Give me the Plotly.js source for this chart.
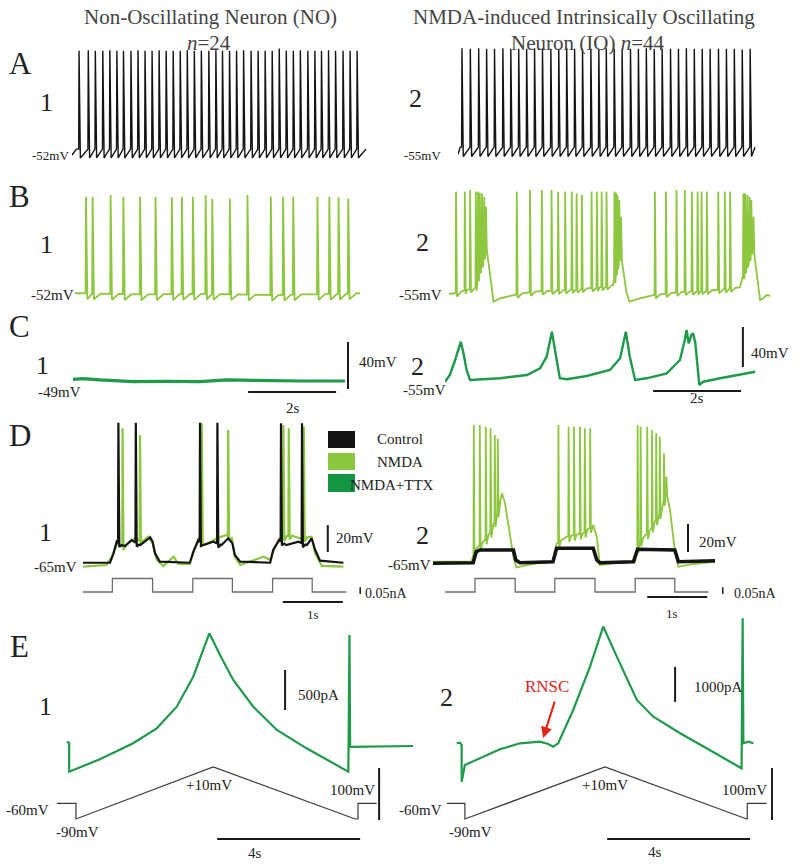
<!DOCTYPE html>
<html>
<head>
<meta charset="utf-8">
<script src="https://cdn.plot.ly/plotly-3.0.1.min.js"></script>
<style>html,body{margin:0;padding:0;background:#fff;}#chart{width:800px;height:867px;}</style>
</head>
<body>
<div id="chart"></div>
<script>
// ---------------- DATA (time in s, voltage in mV, current in nA / pA) ----------------
// A1: Non-oscillating neuron, control
const a1SpikeT = [0.16,0.37,0.53,0.70,0.86,1.02,1.17,1.34,1.50,1.66,1.82,1.98,2.14,2.30,2.46,2.62,2.78,2.94,3.11,3.27,3.42,3.58,3.74,3.90,4.07,4.23,4.39,4.55,4.71,4.87,5.03,5.19,5.36,5.52,5.67,5.83,5.99,6.16,6.32,6.48];
const a1SpikeV = [37,37.5,37,37,37.5,37,37,37,37.5,37,37,37.5,37,37,37,37.5,37,37,37,37.5,37,37,37,37.5,37,37,37,37,39,37,37,37.5,37,37,37,37.5,37,37,37,37];
const a1BaseT = [0,0.10,6.68];
const a1BaseV = [-52,-47,-47];
// A2: Intrinsically oscillating neuron, control
const a2SpikeT = [0.09,0.28,0.47,0.65,0.83,1.02,1.20,1.38,1.56,1.74,1.92,2.11,2.29,2.47,2.65,2.83,3.02,3.20,3.37,3.55,3.73,3.92,4.10,4.28,4.46,4.64,4.83,5.01,5.19,5.37,5.55,5.73,5.92,6.10,6.28,6.46,6.64];
const a2SpikeV = [34.5,34,34.5,34,34,34.5,34,34,34,34.5,34,34,34,34.5,34,34,34,34,34.5,34,34,34,34,34.5,34,34,34,34,34.5,34,34,34,34,34,34,33.5,34];
const a2BaseT = [0,0.05,6.75];
const a2BaseV = [-56,-50,-50];
// B1: NO neuron in NMDA
const b1SpikeT = [0.25,0.40,0.81,1.10,1.48,1.83,2.20,2.43,2.68,2.97,3.12,3.52,3.92,4.45,4.73,4.96,5.51,5.78,5.99,6.21];
const b1SpikeV = [32,32,33.5,32,32,32,31.5,32,32,33.5,30,30.5,33.5,32,32,32,32,32,31.5,30.5];
const b1BaseT = [0,1.5,3.0,4.5,6.48];
const b1BaseV = [-50.5,-51.5,-51,-52,-50.5];
// B2: IO neuron in NMDA (bursting)
const b2BaseT = [0,0.14,0.40,0.61,0.70,0.78,0.84,0.89,0.95,1.01,1.16,1.46,1.92,2.67,3.43,3.73,3.81,3.89,3.95,4.02,4.10,4.34,4.64,5.33,6.08,6.61,6.73,6.84,6.90,6.95,7.01,7.07,7.14,7.22,7.30];
const b2BaseV = [-55,-54.4,-51.6,-49.3,-34.5,-26,-14.6,-17.4,-43,-61.6,-58.7,-55.9,-53,-51.6,-49.3,-47.3,-34.5,-20.2,-31.6,-51.6,-61.6,-58.7,-55.9,-53,-51.6,-49.3,-34.5,-23.1,-13.1,-26,-43,-60.1,-58.7,-55.9,-56.7];
const b2SpikeT = [0.16,0.36,0.48,0.61,0.66,0.70,0.75,0.80,0.84,
  1.54,1.84,2.11,2.33,2.48,2.64,2.79,2.90,3.02,3.24,3.36,3.47,3.58,3.76,3.80,3.83,3.87,3.91,
  4.68,4.93,5.17,5.36,5.52,5.65,5.74,5.86,6.12,6.27,6.39,6.69,6.73,6.78,6.83,6.87,6.92];
const b2SpikeV = [32.5,32.5,33.9,32.5,32.5,31.6,31,28.2,19.6,
  32.5,33.9,33.9,33.9,32.5,32.5,32.5,31,29.6,32.5,32.5,32.5,32.5,32.5,31.6,29.6,25.3,11.1,
  32.5,32.5,33.9,33.9,32.5,32.5,32.5,32.5,32.5,32.5,32.5,31,31,29.6,28.2,25.3,11.1];
// C: NMDA + TTX
const c1T = [0,0.23,0.61,1.37,2.13,2.89,3.49,4.40,5.16,6.18];
const c1V = [-47.6,-47.0,-48.1,-49.6,-49.3,-49.6,-48.1,-48.7,-49,-49];
const c2T = [0,0.11,0.23,0.30,0.36,0.42,0.49,0.57,0.80,1.25,1.86,2.16,2.31,2.43,2.50,2.61,2.77,3.22,3.75,3.98,4.11,4.20,4.32,4.58,5.04,5.34,5.45,5.49,5.54,5.60,5.64,5.69,5.78,5.87,6.25,6.70,7.05];
const c2V = [-54.7,-48,-33,-23,-14.7,-26.3,-43,-53,-52.3,-51.3,-48,-41.3,-29.7,-4.7,-23,-51.3,-52.3,-49,-43,-31.3,-4.7,-29.7,-53,-51.3,-46.3,-33,-13,-3,-16.3,-8,-6.3,-16.3,-58,-54.7,-51.3,-48,-44.7];
// D1: NO neuron, depolarizing current steps
const d1CtrlBaseT = [0,0.45,0.51,0.56,0.64,0.70,0.81,0.95,1.03,1.12,1.16,1.20,1.28,1.78,1.84,1.92,2.00,2.17,2.31,2.42,2.49,2.53,2.62,3.12,3.17,3.27,3.39,3.59,3.73,3.81,3.87,3.95,4.34];
const d1CtrlBaseV = [-64.8,-64.8,-57.8,-49.2,-51.7,-52.4,-48,-51.7,-49.2,-46,-49.2,-57.8,-64,-64.8,-56.6,-48,-51.7,-49.2,-51.7,-46.7,-50.4,-59,-64,-64.8,-55.4,-48,-51.7,-49.2,-51.7,-46.7,-55.4,-63.3,-64.8];
const d1CtrlSpikeT = [0.59,0.88,1.95,2.24,3.30,3.65];
const d1CtrlSpikeV = [38.9,38.9,38.9,38.9,38.5,38.5];
const d1NmdaBaseT = [0,0.39,0.48,0.57,0.68,0.87,0.98,1.09,1.16,1.23,1.34,1.51,1.59,1.78,1.85,1.95,2.03,2.23,2.39,2.48,2.53,2.62,3.01,3.12,3.20,3.28,3.45,3.62,3.81,3.87,3.98,4.34];
const d1NmdaBaseV = [-67.7,-66.5,-60.3,-50.4,-52.9,-46.7,-49.2,-45.5,-50.4,-62.8,-67.2,-60.3,-65.7,-65.7,-55.4,-46.7,-51.7,-46.7,-44.3,-46.7,-60.3,-66.5,-60.3,-62.8,-52.9,-46.7,-44.3,-46.7,-45.5,-57.8,-67.2,-67.7];
const d1NmdaSpikeT = [0.66,0.95,1.98,2.42,3.34,3.43,3.68];
const d1NmdaSpikeV = [34.8,29.8,38.5,33.5,37.2,34.8,36];
const d1StepT = [0,0.49,1.16,1.83,2.49,3.16,3.82,4.39];
const d1StepI = [0,0.1,0,0.1,0,0.1,0,0];
// D2: IO neuron, depolarizing current steps
const d2CtrlT = [0,0.67,0.72,0.78,1.34,1.38,1.45,2.0,2.06,2.67,2.73,2.78,3.34,3.41,4.03,4.09,4.70];
const d2CtrlV = [-65.2,-64.8,-57,-55.7,-55.7,-62.9,-64.8,-64.1,-54.5,-54.5,-62.9,-64.8,-64.1,-55.2,-55.7,-64.1,-63.4];
const d2NmdaBaseT = [0,0.64,0.70,0.84,0.95,1.06,1.15,1.20,1.28,1.34,1.39,1.67,2.0,2.06,2.23,2.5,2.67,2.73,2.78,3.0,3.37,3.42,3.62,3.81,3.89,3.95,4.03,4.09,4.34,4.70];
const d2NmdaBaseV = [-64.1,-64.1,-55.7,-49.8,-43.8,-32,-15.2,-22.4,-46.2,-60.5,-68.1,-65.7,-64.1,-51,-46.2,-43.8,-37.9,-46.2,-66.4,-65.2,-64.1,-51,-41.5,-27.2,-12.9,-27.2,-55.7,-67.6,-65.7,-64.1];
const d2NmdaSpikeT = [0.68,0.78,0.88,0.96,1.03,1.08,2.09,2.26,2.35,2.45,2.53,2.62,3.41,3.46,3.57,3.65,3.72,3.78,3.85,3.89];
const d2NmdaSpikeV = [33.6,33.6,32.4,31.2,26.4,24,33.6,32.4,32.4,32.4,31.2,31.2,33.6,32.4,32.4,30,27.6,25.2,13.4,-3.4];
const d2StepT = [0.2,0.70,1.37,2.03,2.70,3.37,4.03,4.59];
const d2StepI = [0,0.1,0,0.1,0,0.1,0,0];
// E: voltage-clamp ramps (current in pA, command in mV)
const e1T = [0.27,0.34,0.34,1.20,2.13,2.79,3.35,3.81,4.26,4.56,4.93,5.49,6.15,6.98,8.15,8.18,8.20,9.96];
const e1I = [50,40,-321,-166,34,221,491,866,1409,1138,825,491,200,-29,-321,1388,-12,0];
const e1CmdT = [0,0.53,0.53,4.37,8.34,8.42,8.42,8.94];
const e1CmdV = [-60,-60,-90,10,-90,-90,-60,-60];
const e2T = [0.27,0.36,0.41,0.41,0.50,1.02,1.48,2.04,2.60,2.83,2.97,3.11,3.53,4.0,4.37,4.75,5.31,5.77,6.52,7.26,8.24,8.27,8.29,8.43,8.57];
const e2I = [106,123,57,-992,-515,-277,-66,106,152,86,9,106,1058,2297,3441,2583,1344,867,392,-37,-609,3681,106,152,106];
const e2CmdT = [0,0.50,0.50,4.42,8.38,8.40,8.40,8.94];
const e2CmdV = [-60,-60,-90,10,-90,-90,-60,-60];
const legendLabels = ['Control','NMDA','NMDA+TTX'];

// ---------------- STYLE ----------------
const W = 800, H = 867;
const FONT = '"Liberation Serif", "Times New Roman", Times, serif';
const BLACK = '#141414', LGREEN = '#8dc63f', DGREEN = '#1f9a4a', GRAY = '#6e6e6e';

function interp(T, V, t) {
  if (t <= T[0]) return V[0];
  for (let i = 1; i < T.length; i++) {
    if (t <= T[i]) { const f = (t - T[i-1]) / (T[i] - T[i-1]); return V[i-1] + f * (V[i] - V[i-1]); }
  }
  return V[V.length - 1];
}
// Builds a membrane trace from baseline vertices and spike peaks
function spikeTrain(T, V, ST, SV, o) {
  const x = [], y = [];
  let bi = 0;
  const push = (a, b) => { if (x.length && a <= x[x.length-1]) a = x[x.length-1] + 1e-4; x.push(a); y.push(b); };
  for (let k = 0; k < ST.length; k++) {
    const t = ST[k];
    while (bi < T.length && T[bi] < t - o.rise) { if (!x.length || T[bi] > x[x.length-1]) push(T[bi], V[bi]); bi++; }
    const foot = interp(T, V, t);
    push(t - o.rise, foot);
    push(t, SV[k]);
    push(t + o.fall, foot - o.ahp);
    if (o.rec) {
      const tn = k + 1 < ST.length ? ST[k+1] - o.rise : Infinity;
      const tr = t + o.fall + o.rec;
      if (tr < tn) push(tr, interp(T, V, tr));
    }
    while (bi < T.length && T[bi] <= x[x.length-1]) bi++;
  }
  while (bi < T.length) { push(T[bi], V[bi]); bi++; }
  return {x, y};
}

const layout = {
  width: W, height: H, margin: {l:0, r:0, t:0, b:0},
  paper_bgcolor: '#fff', plot_bgcolor: 'rgba(0,0,0,0)',
  showlegend: false, font: {family: FONT, color: '#222'},
  shapes: [], annotations: []
};
function ax(i) { return i === 1 ? '' : String(i); }
// panel i: pixel box and scales (px per unit)
function panel(i, px0, px1, t0px, xs, pyTop, pyBot, refV, refY, ys) {
  layout['xaxis' + ax(i)] = {domain: [px0 / W, px1 / W], range: [(px0 - t0px) / xs, (px1 - t0px) / xs],
    visible: false, fixedrange: true, anchor: 'y' + ax(i)};
  layout['yaxis' + ax(i)] = {domain: [1 - pyBot / H, 1 - pyTop / H], range: [refV - (pyBot - refY) / ys, refV + (refY - pyTop) / ys],
    visible: false, fixedrange: true, anchor: 'x' + ax(i)};
}
panel(1, 72, 370, 72, 44, 40, 168, -52, 155, 1.17);     // A1
panel(2, 458, 760, 458, 44, 40, 168, -55, 153, 1.17);   // A2
panel(3, 75, 365, 75, 44, 185, 308, -52, 295, 1.17);    // B1
panel(4, 449, 775, 449, 44, 185, 308, -55, 294, 1.17);  // B2
panel(5, 73, 355, 73, 44, 330, 398, -49, 381, 1.175);   // C1
panel(6, 445, 760, 445, 44, 320, 398, -55, 382, 1.0);   // C2
panel(7, 83, 365, 83, 60, 415, 578, -65, 563, 1.35);    // D1 V
panel(8, 83, 365, 83, 60, 570, 606, 0, 592, 135);       // D1 I
panel(9, 433, 730, 433, 60, 415, 578, -65, 563, 1.4);   // D2 V
panel(10, 433, 730, 433, 60, 570, 606, 0, 592, 135);    // D2 I
panel(11, 57, 420, 57, 35.75, 612, 790, 0, 746, 0.08);  // E1 I
panel(12, 57, 420, 57, 35.75, 755, 848, -90, 819, 0.52);// E1 Vcmd
panel(13, 447, 780, 447, 35.75, 612, 790, 0, 747, 0.035); // E2 I
panel(14, 447, 780, 447, 35.75, 755, 848, -90, 819, 0.52);// E2 Vcmd

const traces = [];
function line(x, y, i, color, width, shape) {
  traces.push({type: 'scatter', mode: 'lines', x: x, y: y, xaxis: 'x' + ax(i), yaxis: 'y' + ax(i),
    line: {color: color, width: width, shape: shape || 'linear'}, hoverinfo: 'skip', showlegend: false});
}
let s;
s = spikeTrain(a1BaseT, a1BaseV, a1SpikeT, a1SpikeV, {rise: 0.008, fall: 0.03, ahp: 7.5, rec: 0});
line(s.x, s.y, 1, BLACK, 1.4);
s = spikeTrain(a2BaseT, a2BaseV, a2SpikeT, a2SpikeV, {rise: 0.008, fall: 0.03, ahp: 8, rec: 0});
line(s.x, s.y, 2, BLACK, 1.4);
s = spikeTrain(b1BaseT, b1BaseV, b1SpikeT, b1SpikeV, {rise: 0.01, fall: 0.03, ahp: 5, rec: 0.15});
line(s.x, s.y, 3, LGREEN, 1.8);
s = spikeTrain(b2BaseT, b2BaseV, b2SpikeT, b2SpikeV, {rise: 0.008, fall: 0.02, ahp: 3, rec: 0.1});
line(s.x, s.y, 4, LGREEN, 1.8);
line(c1T, c1V, 5, DGREEN, 3.2);
line(c2T, c2V, 6, DGREEN, 2.4);
s = spikeTrain(d1NmdaBaseT, d1NmdaBaseV, d1NmdaSpikeT, d1NmdaSpikeV, {rise: 0.006, fall: 0.015, ahp: 3, rec: 0.04});
line(s.x, s.y, 7, LGREEN, 2.2);
s = spikeTrain(d1CtrlBaseT, d1CtrlBaseV, d1CtrlSpikeT, d1CtrlSpikeV, {rise: 0.006, fall: 0.015, ahp: 3, rec: 0.04});
line(s.x, s.y, 7, BLACK, 2.2);
line(d1StepT, d1StepI, 8, GRAY, 1.3, 'hv');
s = spikeTrain(d2NmdaBaseT, d2NmdaBaseV, d2NmdaSpikeT, d2NmdaSpikeV, {rise: 0.005, fall: 0.012, ahp: 4, rec: 0.03});
line(s.x, s.y, 9, LGREEN, 1.8);
line(d2CtrlT, d2CtrlV, 9, BLACK, 3.6);
line(d2StepT, d2StepI, 10, GRAY, 1.3, 'hv');
line(e1T, e1I, 11, DGREEN, 2.2);
line(e1CmdT, e1CmdV, 12, '#3a3a3a', 1.2);
line(e2T, e2I, 13, DGREEN, 2.2);
line(e2CmdT, e2CmdV, 14, '#3a3a3a', 1.2);

// scale bars (drawn in each panel's data units)
function bar(i, x0, y0, x1, y1, w) {
  layout.shapes.push({type: 'line', xref: 'x' + ax(i), yref: 'y' + ax(i), x0: x0, y0: y0, x1: x1, y1: y1,
    line: {color: '#1a1a1a', width: w || 2}});
}
bar(5, 6.25, -55.8, 6.25, -15.8); bar(5, 3.98, -58.4, 5.98, -58.4);      // C1: 40 mV, 2 s
bar(6, 6.77, -40, 6.77, 0);       bar(6, 4.73, -64, 6.73, -64);          // C2: 40 mV, 2 s
bar(7, 4.08, -56.9, 4.08, -36.9);                                        // D1: 20 mV
bar(8, 4.62, -0.015, 4.62, 0.035, 1.5); bar(8, 3.33, -0.074, 4.33, -0.074); // D1: 0.05 nA, 1 s
bar(9, 4.25, -57.1, 4.25, -37.1);                                        // D2: 20 mV
bar(10, 4.83, -0.015, 4.83, 0.035, 1.5); bar(10, 3.57, -0.037, 4.57, -0.037); // D2
bar(11, 6.38, 450, 6.38, 950);                                           // E1: 500 pA
bar(12, 9.01, -92, 9.01, 8); bar(12, 4.48, -128.5, 8.48, -128.5);        // E1: 100 mV, 4 s
bar(13, 6.38, 1290, 6.38, 2290);                                         // E2: 1000 pA
bar(14, 9.09, -92, 9.09, 8); bar(14, 4.48, -128.5, 8.48, -128.5);        // E2

// legend swatches for panel D
const swatchColors = [BLACK, LGREEN, '#139544'];
const swatchY = [[431, 448], [453, 470], [474, 492]];
const labelPos = [[400, 439], [400, 462], [392, 485]];
for (let k = 0; k < 3; k++) {
  layout.shapes.push({type: 'rect', xref: 'paper', yref: 'paper', x0: 328 / W, x1: 355 / W,
    y0: 1 - swatchY[k][1] / H, y1: 1 - swatchY[k][0] / H, fillcolor: swatchColors[k], line: {width: 0}});
}

// text
function txt(t, x, y, size, anchor, color) {
  layout.annotations.push({xref: 'paper', yref: 'paper', x: x / W, y: 1 - y / H, text: t, showarrow: false,
    xanchor: anchor || 'center', yanchor: 'middle', borderpad: 0,
    font: {family: FONT, size: size, color: color || '#222'}});
}
txt('Non-Oscillating Neuron (NO)', 210, 17, 21, 'center', '#444');
txt('<i>n</i>=24', 209, 43, 21, 'center', '#444');
txt('NMDA-induced Intrinsically Oscillating', 584, 17, 21, 'center', '#444');
txt('Neuron (IO) <i>n</i>=44', 587, 43, 21, 'center', '#444');
[['A', 20, 63], ['B', 19, 196], ['C', 19, 326], ['D', 20, 435], ['E', 19, 646]].forEach(a => txt(a[0], a[1], a[2], 31));
[['1', 46, 102], ['2', 415, 99], ['1', 46, 245], ['2', 422, 242], ['1', 42, 365], ['2', 417, 366],
 ['1', 45, 532], ['2', 422, 535], ['1', 45, 706], ['2', 446, 697]].forEach(a => txt(a[0], a[1], a[2], 26));
txt('-52mV', 70, 155, 13, 'right'); txt('-55mV', 442, 155, 13, 'right');
txt('-52mV', 75, 295, 15, 'right'); txt('-55mV', 443, 295, 15, 'right');
txt('-49mV', 82, 392, 15, 'right'); txt('-55mV', 447, 390, 15, 'right');
txt('40mV', 358, 362, 15, 'left'); txt('40mV', 750, 353, 15, 'left');
txt('2s', 293, 408, 15); txt('2s', 697, 398, 15);
txt('-65mV', 78, 567, 15, 'right'); txt('-65mV', 432, 565, 15, 'right');
txt('20mV', 335, 538, 15, 'left'); txt('20mV', 698, 542, 15, 'left');
txt('0.05nA', 364, 593, 14, 'left'); txt('0.05nA', 733, 593, 14, 'left');
txt('1s', 313, 614, 13); txt('1s', 672, 613, 13);
for (let k = 0; k < 3; k++) txt(legendLabels[k], labelPos[k][0], labelPos[k][1], 15);
txt('500pA', 297, 695, 15, 'left'); txt('1000pA', 693, 687, 15, 'left');
txt('-60mV', 50, 810, 15, 'right'); txt('-90mV', 55, 832, 15, 'left');
txt('+10mV', 209, 785, 15); txt('100mV', 376, 790, 15, 'right'); txt('4s', 255, 853, 15);
txt('-60mV', 443, 810, 15, 'right'); txt('-90mV', 448, 832, 15, 'left');
txt('+10mV', 605, 785, 15); txt('100mV', 768, 790, 15, 'right'); txt('4s', 655, 852, 15);
txt('RNSC', 547, 686, 17, 'center', '#e3241b');
layout.annotations.push({xref: 'x13', yref: 'y13', x: 2.69, y: 257, ax: 12, ay: -38, text: '',
  showarrow: true, arrowhead: 2, arrowsize: 1, arrowwidth: 2.2, arrowcolor: '#e3241b'});

Plotly.newPlot('chart', traces, layout, {displayModeBar: false, staticPlot: true});
</script>
</body>
</html>
